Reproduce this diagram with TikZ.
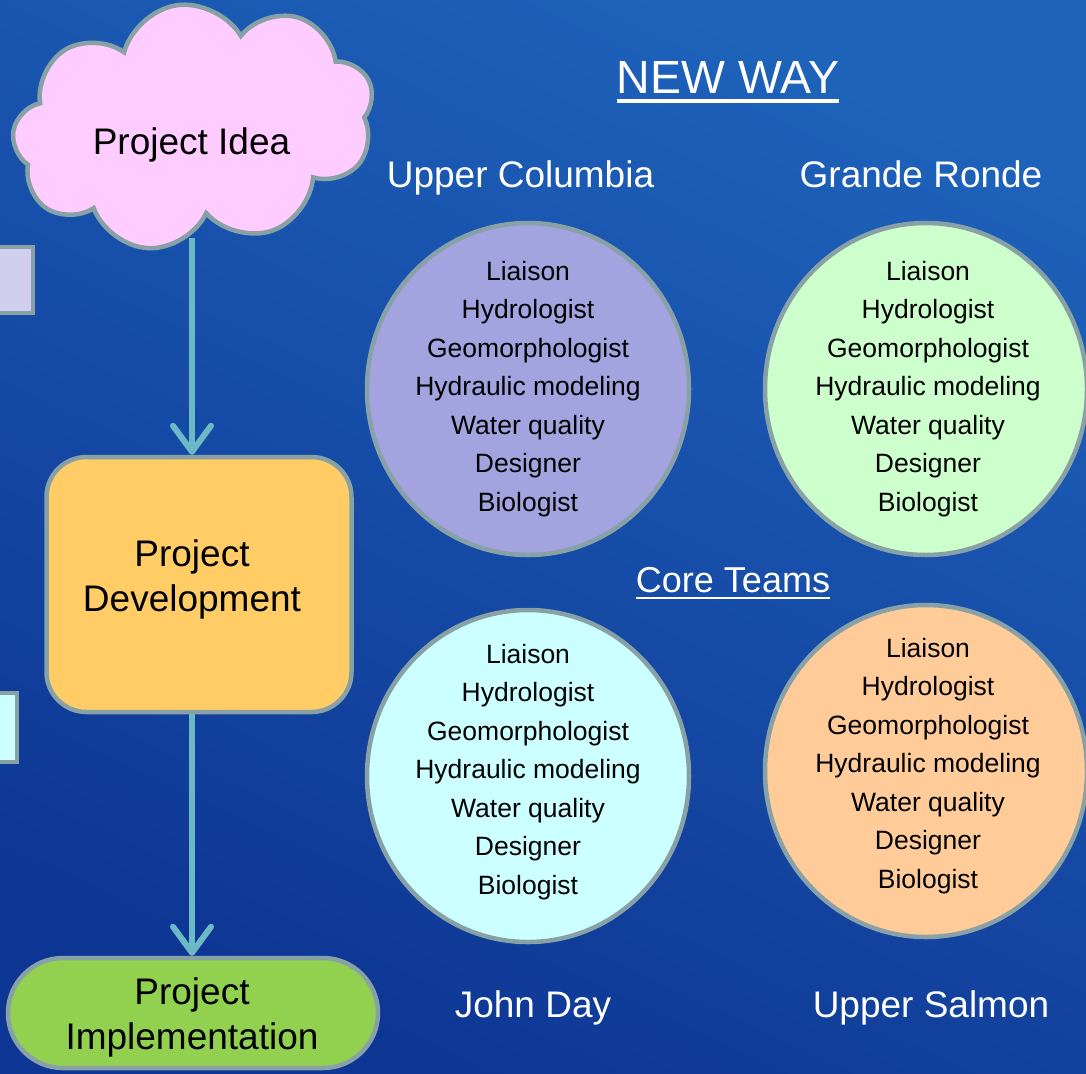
\documentclass[tikz,border=0pt]{standalone}
\usepackage{fontspec}
\setmainfont{Liberation Sans}
\usetikzlibrary{shapes.symbols,shapes.geometric,arrows.meta}
\definecolor{bordergray}{RGB}{136,161,166}
\definecolor{arrowteal}{RGB}{108,185,198}
\definecolor{cloudpink}{RGB}{255,204,255}
\definecolor{devorange}{RGB}{255,204,102}
\definecolor{implgreen}{RGB}{146,208,80}
\definecolor{ucfill}{RGB}{163,163,224}
\definecolor{grfill}{RGB}{204,255,204}
\definecolor{jdfill}{RGB}{204,255,255}
\definecolor{usfill}{RGB}{255,204,153}
\definecolor{sqlav}{RGB}{208,208,238}
\definecolor{bgtop}{RGB}{30,98,186}
\definecolor{bgbot}{RGB}{14,54,148}
\tikzset{
  shapeline/.style={draw=bordergray, line width=4.5pt},
  bigtext/.style={font=\fontsize{37}{45}\selectfont, align=center, text=black, inner sep=0pt},
  teamcircle/.style={ellipse, shapeline, minimum width=322pt, minimum height=332pt, inner sep=0pt},
  teamtext/.style={font=\fontsize{26.5}{38.5}\selectfont, align=center, text=black, inner sep=0pt},
  regionlabel/.style={font=\fontsize{37}{45}\selectfont, text=white, inner sep=0pt, anchor=base},
  flowarrow/.style={draw=arrowteal, line width=6pt, -{Straight Barb[length=26pt,width=38pt,round]}},
}
\newcommand{\teamlist}{Liaison\\Hydrologist\\Geomorphologist\\Hydraulic modeling\\Water quality\\Designer\\Biologist}
\begin{document}
\begin{tikzpicture}[x=1pt,y=-1pt]
\useasboundingbox (0,0) rectangle (1086,1073);
\shade[top color=bgtop, bottom color=bgbot, shading angle=-25] (0,0) rectangle (1086,1073);

% partial squares at the left edge
\node[shapeline, fill=sqlav, rectangle, minimum width=70pt, minimum height=66pt, inner sep=0pt] (sq1) at (-2,280) {};
\node[shapeline, fill=jdfill, rectangle, minimum width=54pt, minimum height=69pt, inner sep=0pt] (sq2) at (-10,727.5) {};

% flow shapes
\node[cloud, cloud puffs=9, cloud puff arc=135, shapeline, fill=cloudpink, minimum width=364pt, minimum height=244pt, inner sep=0pt, rotate=8] (idea) at (194,126) {};
\node[bigtext, anchor=base] (ideatext) at (191.5,154) {Project Idea};
\node[rectangle, rounded corners=40pt, shapeline, fill=devorange, minimum width=305pt, minimum height=255pt] (dev) at (199,584.5) {};
\node[bigtext] (devtext) at (192,579) {Project\\Development};
\node[rectangle, rounded corners=55pt, shapeline, fill=implgreen, minimum width=370pt, minimum height=110pt, inner sep=0pt] (impl) at (193,1013) {};
\node[bigtext] (impltext) at (192,1017) {Project\\Implementation};

\coordinate (ideafoot) at (192,238);
\draw[flowarrow] (ideafoot) -- (ideafoot |- dev.north);
\draw[flowarrow] (ideafoot |- dev.south) -- (ideafoot |- impl.north);

% titles
\node[text=white, font=\fontsize{46.5}{50}\selectfont, inner sep=0pt, anchor=base] (newway) at (728,93) {NEW WAY};
\draw[white, line width=3.5pt] ([yshift=-8pt]newway.base west) -- ([yshift=-8pt]newway.base east);
\node[text=white, font=\fontsize{36}{40}\selectfont, inner sep=0pt, anchor=base] (core) at (733,592.5) {Core Teams};
\draw[white, line width=2.5pt] ([yshift=-5.5pt]core.base west) -- ([yshift=-5.5pt]core.base east);

% region labels
\node[regionlabel] (uclab) at (520.5,187) {Upper Columbia};
\node[regionlabel] (grlab) at (921,187) {Grande Ronde};
\node[regionlabel] (jdlab) at (533,1017) {John Day};
\node[regionlabel] (uslab) at (931,1017) {Upper Salmon};

% team circles
\node[teamcircle, fill=ucfill] (uc) at (528,389) {};
\node[teamtext] (uctext) at (528,389) {\teamlist};
\node[teamcircle, fill=grfill] (gr) at (926,389) {};
\node[teamtext] (grtext) at (928,389) {\teamlist};
\node[teamcircle, fill=jdfill] (jd) at (528,776) {};
\node[teamtext] (jdtext) at (528,772) {\teamlist};
\node[teamcircle, fill=usfill] (us) at (926,771) {};
\node[teamtext] (ustext) at (928,766) {\teamlist};
\end{tikzpicture}
\end{document}
